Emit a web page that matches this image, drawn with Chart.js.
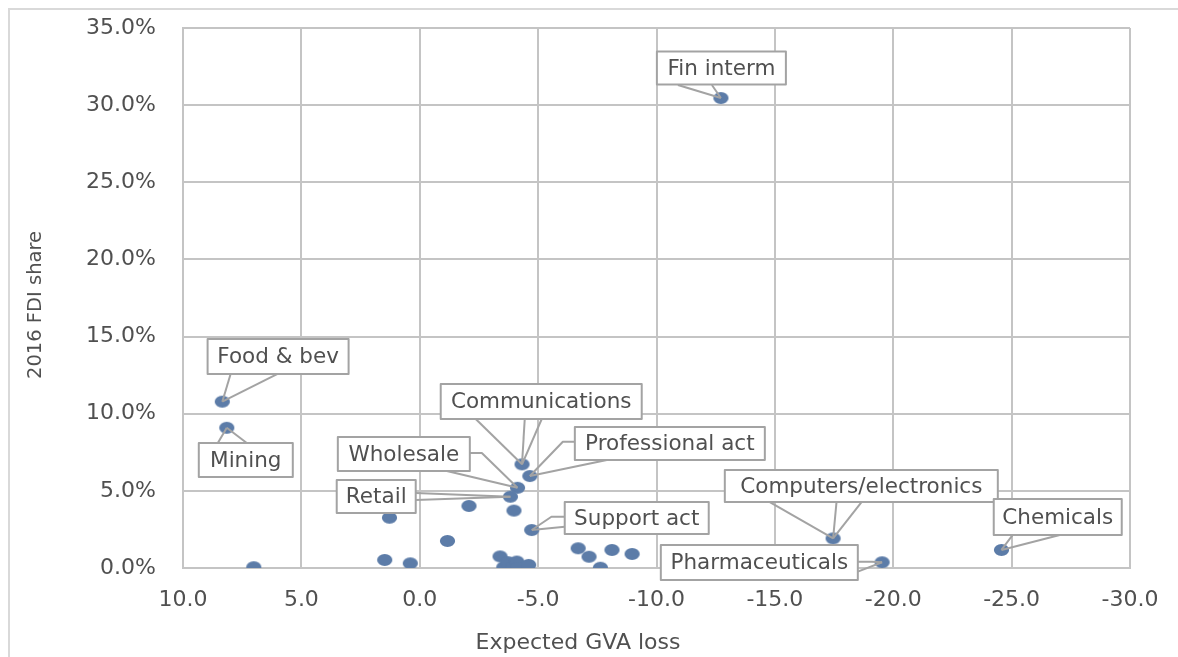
<!DOCTYPE html>
<html><head><meta charset="utf-8">
<script src="https://cdn.jsdelivr.net/npm/chart.js@4.4.1/dist/chart.umd.min.js"></script>
<style>html,body{margin:0;padding:0;background:#fff;overflow:hidden}#wrap{position:relative;width:1178px;height:657px}</style>
</head><body><div id="wrap"><canvas id="c" width="1178" height="657"></canvas></div>
<script>
// ---- data ----
const sectors = ['Fin interm','Food & bev','Mining','Communications','Professional act','Wholesale','Retail','Support act','Computers/electronics','Pharmaceuticals','Chemicals',
  '','','','','','','','','','','','','','','','','','',''];
const gvaLoss = [-12.72, 8.34, 8.15, -4.32, -4.65, -4.13, -3.83, -4.73, -17.46, -19.53, -24.57,
  -3.98, -2.08, 1.28, -1.17, 1.48, 0.40, 7.01, -3.39, -3.55, -3.72, -3.95, -4.10, -4.15, -4.60, -6.69, -7.15, -7.63, -8.12, -8.97];
const fdiShare = [30.46, 10.78, 9.09, 6.72, 5.96, 5.20, 4.62, 2.46, 1.92, 0.37, 1.17,
  3.72, 4.02, 3.26, 1.75, 0.52, 0.30, 0.05, 0.75, 0.05, 0.38, 0.12, 0.42, 0.00, 0.20, 1.28, 0.73, 0.02, 1.17, 0.91];
const xTickValues = [10, 5, 0, -5, -10, -15, -20, -25, -30];
const xTickLabels = ['10.0','5.0','0.0','-5.0','-10.0','-15.0','-20.0','-25.0','-30.0'];
const yTickValues = [0, 5, 10, 15, 20, 25, 30, 35];
const yTickLabels = ['0.0%','5.0%','10.0%','15.0%','20.0%','25.0%','30.0%','35.0%'];
const xTitle = 'Expected GVA loss';
const yTitle = '2016 FDI share';

// ---- callout layout (pixel offsets relative to the point) ----
const callouts = {
  'Fin interm': {box:[-64,-46.5,129,33], leaders:[[[-43,-13]],[[-9,-13]]]},
  'Food & bev': {box:[-14.7,-62.7,141,35], leaders:[[[8.3,-27.7]],[[55.3,-27.7]]]},
  'Mining': {box:[-28,15.3,94,34], leaders:[[[-9,15.3]],[[20,15.3]]]},
  'Communications': {box:[-81.3,-80.3,201,35], leaders:[[[-46.3,-45.3]],[[2.7,-45.3]],[[19.7,-45.3]]]},
  'Professional act': {box:[45,-49,190,33], leaders:[[[45,-34.3],[33,-34.3]],[[77,-16]]]},
  'Wholesale': {box:[-179.7,-50.7,132,34], leaders:[[[-47.7,-34.7],[-35.7,-34.7]],[[-70.7,-16.7]]]},
  'Retail': {box:[-173.7,-16.7,79,33], leaders:[[[-94.7,-3.7]],[[-94.7,3.3]]]},
  'Support act': {box:[33,-28,144,32], leaders:[[[33,-13.3],[19.7,-13.3]],[[33,-3.3]]]},
  'Computers/electronics': {box:[-108.3,-68.3,273,32], leaders:[[[-63.3,-36.3]],[[3.4,-36.3]],[[28.4,-36.3]]]},
  'Pharmaceuticals': {box:[-221.3,-17.3,197,35], leaders:[[[-24.3,-0.6],[-10.3,-0.6]],[[-24.3,9.4]]]},
  'Chemicals': {box:[-7.7,-51,128,36], leaders:[[[11.3,-15]],[[58.3,-15]]]}
};

const FONT = "'DejaVu Sans', sans-serif";
const TEXT = '#505050';
const GRID = '#c4c4c4';
const LINE = '#a3a3a3';
const DOT = '#5c7ca8';

const dot = document.createElement('canvas');
dot.width = 17; dot.height = 14;
(function(){const d = dot.getContext('2d'); d.fillStyle = DOT; d.beginPath(); d.ellipse(8.5,7,7.6,6.1,0,0,Math.PI*2); d.fill();})();

const framePlugin = {
  id: 'frame',
  beforeDraw(chart){
    const ctx = chart.ctx; ctx.save();
    ctx.fillStyle = '#fff'; ctx.fillRect(0,0,chart.width,chart.height);
    ctx.strokeStyle = '#d9d9d9'; ctx.lineWidth = 2;
    ctx.strokeRect(9, 9, 1400, 1000);
    ctx.restore();
  },
  afterDraw(chart){
    const ctx = chart.ctx; ctx.save();
    ctx.fillStyle = TEXT; ctx.textAlign = 'center'; ctx.textBaseline = 'middle';
    ctx.font = '22px ' + FONT;
    ctx.fillText(xTitle, 578, 643);
    ctx.translate(35.5, 305); ctx.rotate(-Math.PI/2);
    ctx.font = '19.5px ' + FONT;
    ctx.fillText(yTitle, 0, 0);
    ctx.restore();
  }
};

const calloutPlugin = {
  id: 'callouts',
  afterDatasetsDraw(chart){
    const ctx = chart.ctx, xs = chart.scales.x, ys = chart.scales.y;
    ctx.save();
    sectors.forEach((name, i) => {
      const c = callouts[name]; if (!c) return;
      const px = xs.getPixelForValue(gvaLoss[i]), py = ys.getPixelForValue(fdiShare[i]);
      ctx.strokeStyle = LINE; ctx.lineWidth = 2; ctx.lineJoin = 'round';
      c.leaders.forEach(path => {
        ctx.beginPath();
        ctx.moveTo(px + path[0][0], py + path[0][1]);
        for (let k = 1; k < path.length; k++) ctx.lineTo(px + path[k][0], py + path[k][1]);
        ctx.lineTo(px, py);
        ctx.stroke();
      });
      const bx = px + c.box[0], by = py + c.box[1], bw = c.box[2], bh = c.box[3];
      ctx.fillStyle = '#fff'; ctx.fillRect(bx, by, bw, bh);
      ctx.strokeRect(bx, by, bw, bh);
      ctx.fillStyle = TEXT; ctx.font = '21.5px ' + FONT;
      ctx.textAlign = 'center'; ctx.textBaseline = 'middle';
      ctx.fillText(name, bx + bw/2, by + bh/2 + 1);
    });
    ctx.restore();
  }
};

new Chart(document.getElementById('c'), {
  type: 'scatter',
  data: { datasets: [{
    data: gvaLoss.map((x, i) => ({x: x, y: fdiShare[i]})),
    pointStyle: dot, pointRadius: 7, pointHoverRadius: 7,
    backgroundColor: DOT, borderColor: DOT
  }]},
  options: {
    responsive: false, animation: false, devicePixelRatio: 1,
    layout: { padding: { left: 0, right: 48, top: 28, bottom: 0 } },
    plugins: { legend: { display: false }, tooltip: { enabled: false } },
    scales: {
      x: {
        type: 'linear', reverse: true, min: -30, max: 10,
        afterBuildTicks: s => { s.ticks = xTickValues.map(v => ({value: v})); },
        afterFit: s => { s.height = 89; s.paddingLeft = 0; s.paddingRight = 0; },
        grid: { color: GRID, lineWidth: 2, drawTicks: false },
        border: { color: GRID, width: 2 },
        ticks: { padding: 19.5, color: TEXT, font: { family: FONT, size: 22 }, maxRotation: 0,
          callback: v => xTickLabels[xTickValues.indexOf(v)] }
      },
      y: {
        type: 'linear', min: 0, max: 35,
        afterBuildTicks: s => { s.ticks = yTickValues.map(v => ({value: v})); },
        afterFit: s => { s.width = 183; s.paddingTop = 0; s.paddingBottom = 0; },
        grid: { color: GRID, lineWidth: 2, drawTicks: false },
        border: { color: GRID, width: 2 },
        ticks: { padding: 27, color: TEXT, font: { family: FONT, size: 22 },
          callback: v => yTickLabels[yTickValues.indexOf(v)] }
      }
    }
  },
  plugins: [framePlugin, calloutPlugin]
});
</script></body></html>
